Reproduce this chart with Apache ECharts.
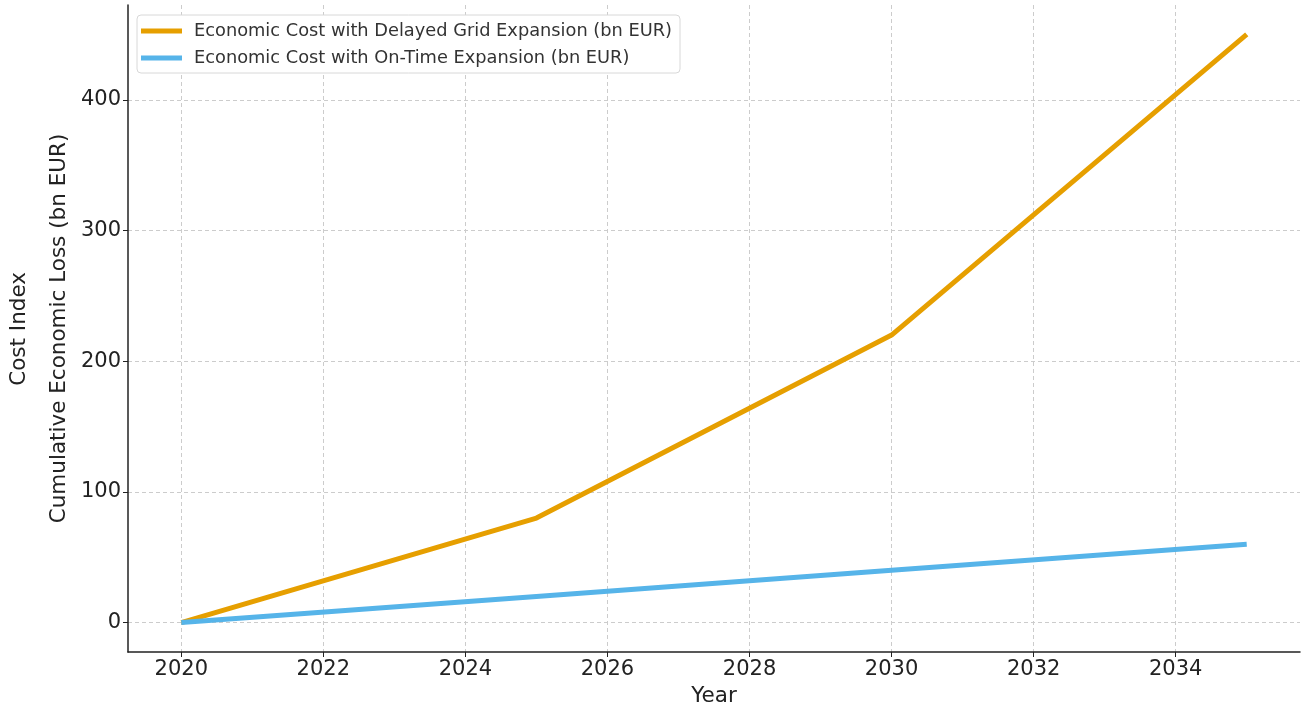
<!DOCTYPE html>
<html>
<head>
<meta charset="utf-8">
<script src="https://cdn.jsdelivr.net/npm/echarts@6/dist/echarts.min.js"></script>
<style>html,body{margin:0;padding:0;background:#fff}#c{width:1303px;height:711px}</style>
</head>
<body>
<div id="c"></div>
<script>
const years = [2020, 2025, 2030, 2035];
const delayedCost = [0, 80, 220, 450];
const onTimeCost = [0, 20, 40, 60];
const xTicks = [2020, 2022, 2024, 2026, 2028, 2030, 2032, 2034];
const yTicks = [0, 100, 200, 300, 400];
const seriesNames = ['Economic Cost with Delayed Grid Expansion (bn EUR)', 'Economic Cost with On-Time Expansion (bn EUR)'];

const font = 'DejaVu Sans';
const chart = echarts.init(document.getElementById('c'), null, {renderer: 'canvas'});
const gridLine = {show: true, lineStyle: {color: '#cccccc', type: [4, 3], width: 1}};
chart.setOption({
  animation: false,
  textStyle: {fontFamily: font},
  grid: {left: 128, right: 3, top: 5, bottom: 59, containLabel: false, outerBoundsMode: 'none'},
  legend: {
    orient: 'vertical', left: 137, top: 15,
    backgroundColor: '#fff', borderColor: '#d8d8d8', borderWidth: 1, borderRadius: 4,
    padding: [7, 8, 6, 4], itemGap: 9, itemWidth: 41, itemHeight: 5, icon: 'rect',
    textStyle: {fontFamily: font, fontSize: 17.8, color: '#333', padding: [0, 0, 0, 7]},
    data: seriesNames
  },
  xAxis: {
    type: 'value', min: 2019.25, max: 2035.75,
    name: 'Year', nameLocation: 'middle', nameGap: 33,
    nameTextStyle: {fontFamily: font, fontSize: 21.5, color: '#222'},
    axisLine: {onZero: false, lineStyle: {color: '#222', width: 1.5}},
    axisTick: {show: true, length: 5, customValues: xTicks, lineStyle: {color: '#222'}},
    axisLabel: {customValues: xTicks, fontSize: 21, color: '#222', margin: 7, formatter: v => String(v)},
    splitLine: gridLine
  },
  yAxis: {
    type: 'value', min: -22.5, max: 472.5,
    name: 'Cumulative Economic Loss (bn EUR)', nameLocation: 'middle', nameGap: 51, nameRotate: 90,
    nameTextStyle: {fontFamily: font, fontSize: 21.5, color: '#222'},
    axisLine: {show: true, onZero: false, lineStyle: {color: '#222', width: 1.5}},
    axisTick: {show: true, length: 5, customValues: yTicks, lineStyle: {color: '#222'}},
    axisLabel: {customValues: yTicks, fontSize: 21, color: '#222', margin: 7},
    splitLine: gridLine
  },
  graphic: [{
    type: 'text', left: 8, top: 272, rotation: Math.PI / 2,
    style: {text: 'Cost Index', fontFamily: font, fontSize: 21.5, fill: '#222'}
  }],
  series: [
    {name: seriesNames[0], type: 'line', data: years.map((y, i) => [y, delayedCost[i]]),
     showSymbol: false, lineStyle: {color: '#E69F00', width: 5}, itemStyle: {color: '#E69F00'}, z: 3},
    {name: seriesNames[1], type: 'line', data: years.map((y, i) => [y, onTimeCost[i]]),
     showSymbol: false, lineStyle: {color: '#56B4E9', width: 5}, itemStyle: {color: '#56B4E9'}, z: 3}
  ]
});
</script>
</body>
</html>
